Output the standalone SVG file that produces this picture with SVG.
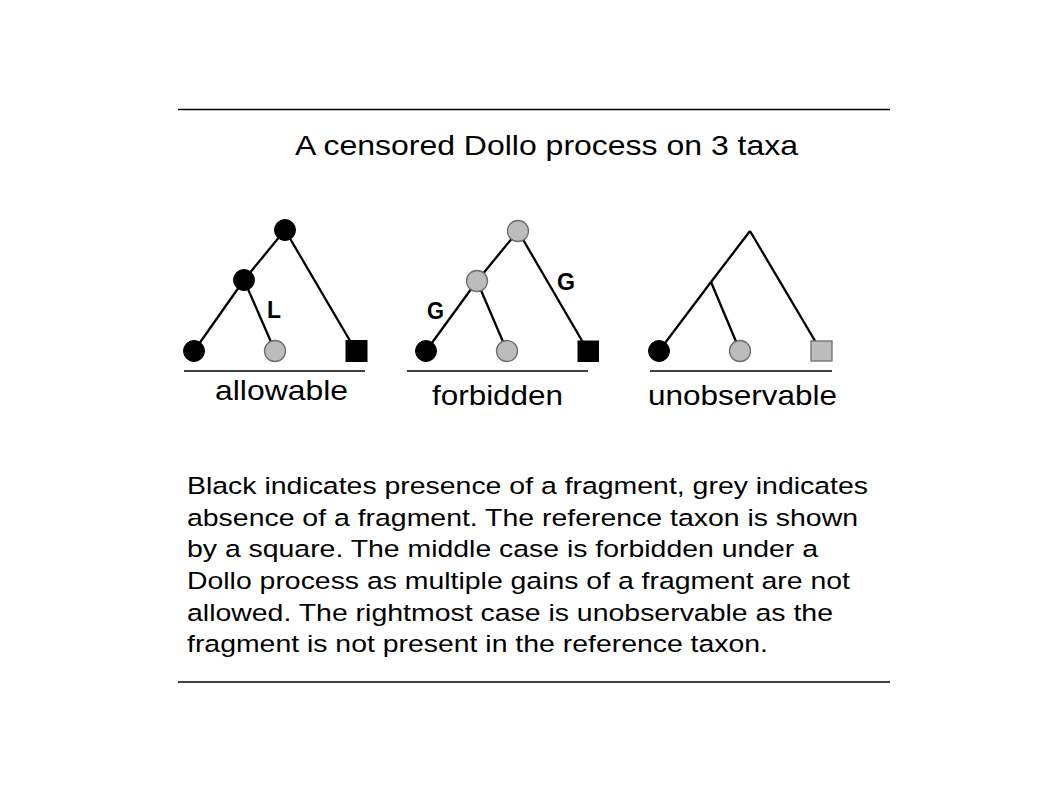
<svg xmlns="http://www.w3.org/2000/svg" width="1058" height="793" viewBox="0 0 1058 793">
<style>
.rule{stroke:#000;stroke-width:1.5}
.edge{stroke:#000;stroke-width:2.3;fill:none}
.blk{fill:#000;stroke:#000;stroke-width:1}
.gry{fill:#bcbcbc;stroke:#6e6e6e;stroke-width:1.3}
.t{font-family:"Liberation Sans",Arial,sans-serif;fill:#000}
.lab{font-family:"Liberation Sans",Arial,sans-serif;font-weight:bold;font-size:23px;fill:#000}
</style>
<rect width="1058" height="793" fill="#fff"/>
<line class="rule" x1="178" y1="109.5" x2="890" y2="109.5"/>
<line class="rule" x1="178" y1="682" x2="890" y2="682"/>
<text class="t" x="295" y="155" font-size="28.5" textLength="503" lengthAdjust="spacingAndGlyphs">A censored Dollo process on 3 taxa</text>

<g id="connectors">
  <line class="edge" x1="285" y1="230" x2="244" y2="280"/>
  <line class="edge" x1="244" y1="280" x2="194" y2="351"/>
  <line class="edge" x1="244" y1="280" x2="275" y2="351"/>
  <line class="edge" x1="285" y1="230" x2="356" y2="351"/>
  <line class="edge" x1="518" y1="231" x2="477" y2="281"/>
  <line class="edge" x1="477" y1="281" x2="426" y2="351"/>
  <line class="edge" x1="477" y1="281" x2="507" y2="351"/>
  <line class="edge" x1="518" y1="231" x2="588" y2="351"/>
  <line class="edge" x1="750" y1="231" x2="711" y2="282"/>
  <line class="edge" x1="711" y1="282" x2="659" y2="351"/>
  <line class="edge" x1="711" y1="282" x2="740" y2="351"/>
  <line class="edge" x1="750" y1="231" x2="821" y2="351"/>
</g>

<g id="allowable">
  <circle id="a-root" class="blk" cx="285" cy="230" r="10.5"/>
  <circle id="a-mid" class="blk" cx="244" cy="280" r="10.5"/>
  <circle id="a-leaf1" class="blk" cx="194" cy="351" r="10.5"/>
  <circle id="a-leaf2" class="gry" cx="275" cy="351" r="10.5"/>
  <rect id="a-ref" class="blk" x="346" y="340.5" width="21" height="21"/>
  <text class="lab" x="267" y="318" textLength="14" lengthAdjust="spacingAndGlyphs">L</text>
  <line class="rule" x1="184" y1="371" x2="365" y2="371"/>
  <text class="t" x="215" y="400" font-size="27.5" textLength="133" lengthAdjust="spacingAndGlyphs">allowable</text>
</g>

<g id="forbidden">
  <circle id="f-root" class="gry" cx="518" cy="231" r="10.5"/>
  <circle id="f-mid" class="gry" cx="477" cy="281" r="10.5"/>
  <circle id="f-leaf1" class="blk" cx="426" cy="351" r="10.5"/>
  <circle id="f-leaf2" class="gry" cx="507" cy="351" r="10.5"/>
  <rect id="f-ref" class="blk" x="578" y="341" width="20.5" height="20.5"/>
  <text class="lab" x="427" y="318.5" textLength="17" lengthAdjust="spacingAndGlyphs">G</text>
  <text class="lab" x="557" y="290" textLength="18" lengthAdjust="spacingAndGlyphs">G</text>
  <line class="rule" x1="407" y1="371" x2="588" y2="371"/>
  <text class="t" x="432" y="405" font-size="27.5" textLength="131" lengthAdjust="spacingAndGlyphs">forbidden</text>
</g>

<g id="unobservable">
  <circle id="u-leaf1" class="blk" cx="659" cy="351" r="10.5"/>
  <circle id="u-leaf2" class="gry" cx="740" cy="351" r="10.5"/>
  <rect id="u-ref" class="gry" x="811" y="341" width="21" height="20"/>
  <line class="rule" x1="650" y1="371" x2="832" y2="371"/>
  <text class="t" x="648" y="405" font-size="27.5" textLength="189" lengthAdjust="spacingAndGlyphs">unobservable</text>
</g>

<g id="caption" class="t" font-size="24.5">
  <text x="187" y="494" textLength="681" lengthAdjust="spacingAndGlyphs">Black indicates presence of a fragment, grey indicates</text>
  <text x="187" y="525.7" textLength="671" lengthAdjust="spacingAndGlyphs">absence of a fragment. The reference taxon is shown</text>
  <text x="187" y="557.4" textLength="631" lengthAdjust="spacingAndGlyphs">by a square. The middle case is forbidden under a</text>
  <text x="187" y="589" textLength="663" lengthAdjust="spacingAndGlyphs">Dollo process as multiple gains of a fragment are not</text>
  <text x="187" y="620.7" textLength="646" lengthAdjust="spacingAndGlyphs">allowed. The rightmost case is unobservable as the</text>
  <text x="187" y="652.4" textLength="581" lengthAdjust="spacingAndGlyphs">fragment is not present in the reference taxon.</text>
</g>
</svg>
